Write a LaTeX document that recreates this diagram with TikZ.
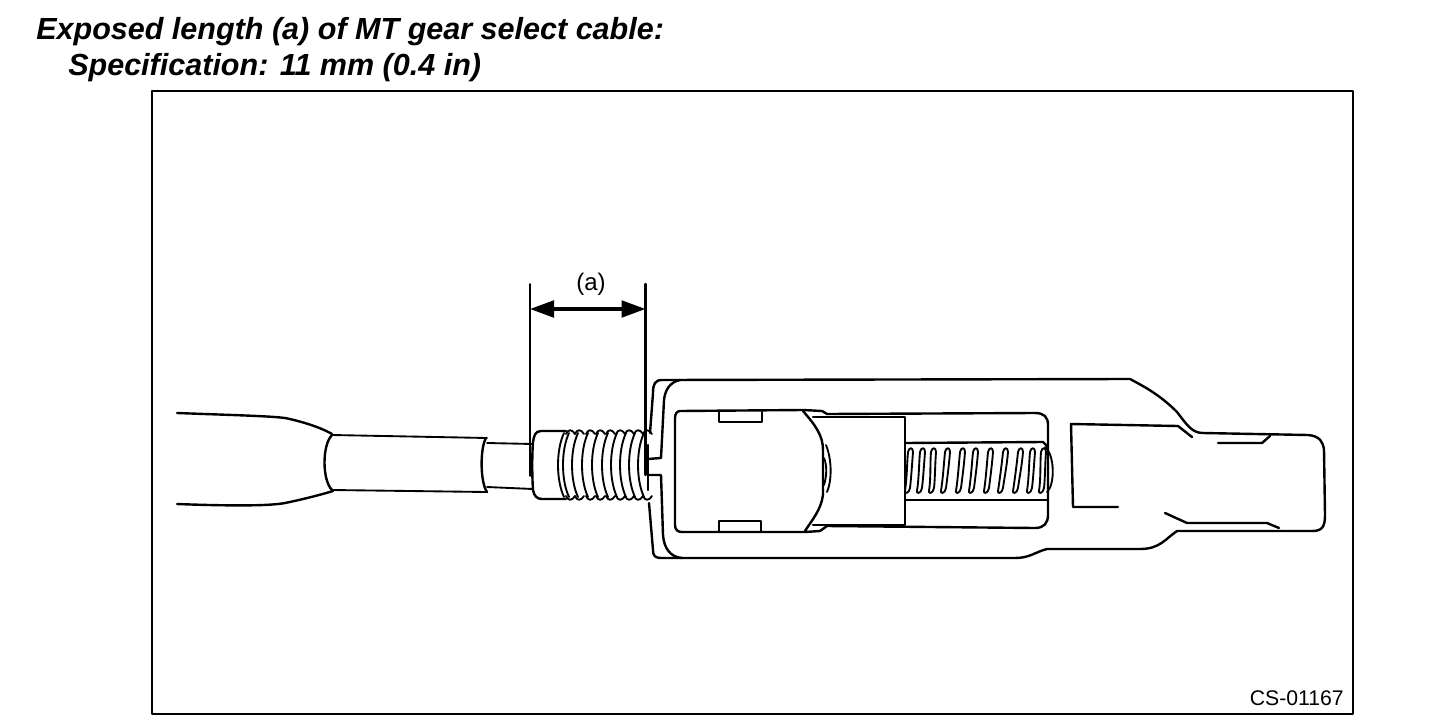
\documentclass[tikz,border=0pt]{standalone}
\usepackage{fontspec}
\setmainfont{Liberation Sans}
\usetikzlibrary{arrows.meta}
\tikzset{
  ln/.style={line width=1.8pt,line join=round,line cap=round},
  thin ln/.style={line width=1.4pt,line join=round,line cap=round},
  title/.style={anchor=base west,inner sep=0pt,font=\fontsize{22.9pt}{26pt}\selectfont\bfseries\itshape},
  lbl/.style={inner sep=0pt,font=\fontsize{15.9pt}{19pt}\selectfont}
}
\begin{document}
\begin{tikzpicture}[x=0.75pt,y=-0.75pt]
\useasboundingbox (0,0) rectangle (1456,724);
\node[title] (t1) at (36,40) {Exposed length (a) of MT gear select cable:};
\node[title] (t2) at (68,75) {Specification: 11 mm (0.4 in)};
\draw[ln] (152,91) rectangle (1353,714);
\node[lbl,anchor=base east] (code) at (1344,705) {CS-01167};
% dimension
\coordinate (dl) at (530,309);
\coordinate (dr) at (645.5,309);
\node[lbl,font=\fontsize{18pt}{20pt}\selectfont] (a) at (591,284) {(a)};
\draw[thin ln] (530,284) -- (530,476);
\draw[ln] (645.5,284) -- (645.5,475);
\draw[line width=2.4pt,{Triangle[length=18pt,width=12.5pt]}-{Triangle[length=18pt,width=12.5pt]}] (dl) -- (dr);
% cable
\draw[ln] (177,413) .. controls (230,415) and (270,416) .. (285,418) .. controls (300,421) and (320,427) .. (332,434);
\draw[ln] (177,504) .. controls (230,506) and (270,506) .. (285,503) .. controls (300,500) and (320,495) .. (333,491);
\draw[thin ln] (332,435) -- (487,438);
\draw[thin ln] (332,490) -- (487,492);
\draw[ln] (332,435) .. controls (322,445) and (322,480) .. (332,490);
\draw[ln] (486,438) .. controls (480,448) and (480,482) .. (487,492);
\draw[thin ln] (487,443) -- (533,444);
\draw[thin ln] (487,487) -- (533,489);
% nut and threads
\draw[ln] (566,431) -- (541,431) .. controls (535,431) and (534,436) .. (533,442) .. controls (532,455) and (532,475) .. (533,490) .. controls (534,496) and (537,499) .. (542,499) -- (566,499);
\foreach \p in {564,569,578,588,598,608,617,626,635,644}{
  \draw[thin ln] (\p,433) .. controls (\p-8,450) and (\p-8,480) .. (\p,497);
}
\foreach \p in {566,575,586,596,606,616,625,634,643}{
  \draw[thin ln] (\p,434) .. controls (\p+2,429) and (\p+6,429) .. (\p+9,434);
  \draw[thin ln] (\p,496) .. controls (\p+2,501) and (\p+6,501) .. (\p+9,496);
}
% housing outer
\draw[ln] (650,433) -- (653,393) .. controls (653,384) and (655,380) .. (662,380) -- (1130,379)
  .. controls (1145,387) and (1160,395) .. (1177,412) .. controls (1187,425) and (1192,433) .. (1203,433)
  -- (1308,435) .. controls (1320,436) and (1323,442) .. (1324,450) -- (1325,515) .. controls (1325,527) and (1322,531) .. (1312,531)
  -- (1177,531) .. controls (1165,539) and (1160,549) .. (1140,549) -- (1047,549) .. controls (1035,552) and (1030,558) .. (1015,558)
  -- (662,558) .. controls (655,558) and (653,556) .. (653,550) -- (649,503);
\draw[ln] (680,380) .. controls (670,382) and (665,390) .. (664,400) -- (661,458) -- (648,459);
\draw[ln] (648,475) -- (661,475) -- (663,535) .. controls (664,548) and (670,557) .. (682,558);
\draw[ln] (648,445) -- (648,490);
% window
\draw[ln] (803,410) -- (680,411) .. controls (677,411) and (675,414) .. (675,418) -- (675,525) .. controls (675,530) and (678,532) .. (682,532) -- (805,532)
  -- (820,531) -- (827,526) -- (1035,528) .. controls (1044,528) and (1048,523) .. (1048,515) -- (1048,425) .. controls (1048,417) and (1044,413) .. (1035,413) -- (827,414) -- (822,411) -- (803,410);
\draw[ln] (803,411) .. controls (815,425) and (823,435) .. (823,450) -- (823,495) .. controls (821,510) and (812,520) .. (805,531);
\draw[ln] (719,412) -- (719,422) -- (762,422) -- (762,412);
\draw[ln] (719,531) -- (719,521) -- (761,521) -- (761,531);
\draw[thin ln] (826,445) .. controls (832,460) and (832,480) .. (827,492);
\draw[thin ln] (824,458) .. controls (827,465) and (827,475) .. (824,485);
\draw[ln] (813,417) -- (905,417) -- (905,525) -- (813,525);
% rod and spring
\draw[ln] (905,443) -- (1043,442) -- (1047,446);
\draw[ln] (905,500) -- (1047,500);
\foreach \t/\b in {910/905,922/917,933/929,947/941,962/956,975/969,990/984,1005/998,1020/1013,1032/1027,1043/1039}{
  \draw[thin ln] (\b,491) .. controls (\b+2,478) and (\t-3,462) .. (\t-2,452) .. controls (\t-1,447) and (\t+3,447) .. (\t+3,452)
     .. controls (\t+2,465) and (\b+6,480) .. (\b+5,488) .. controls (\b+4,494) and (\b-1,494) .. (\b,491);
}
\draw[thin ln] (1045,447) .. controls (1055,455) and (1055,485) .. (1047,492);
% fork
\draw[ln] (1192,437) -- (1178,426) -- (1071,424) -- (1073,507) -- (1118,507);
\draw[ln] (1165,513) -- (1187,523) -- (1267,523) -- (1279,528);
\draw[ln] (1218,443) -- (1262,443) -- (1270,436);
\end{tikzpicture}
\end{document}
